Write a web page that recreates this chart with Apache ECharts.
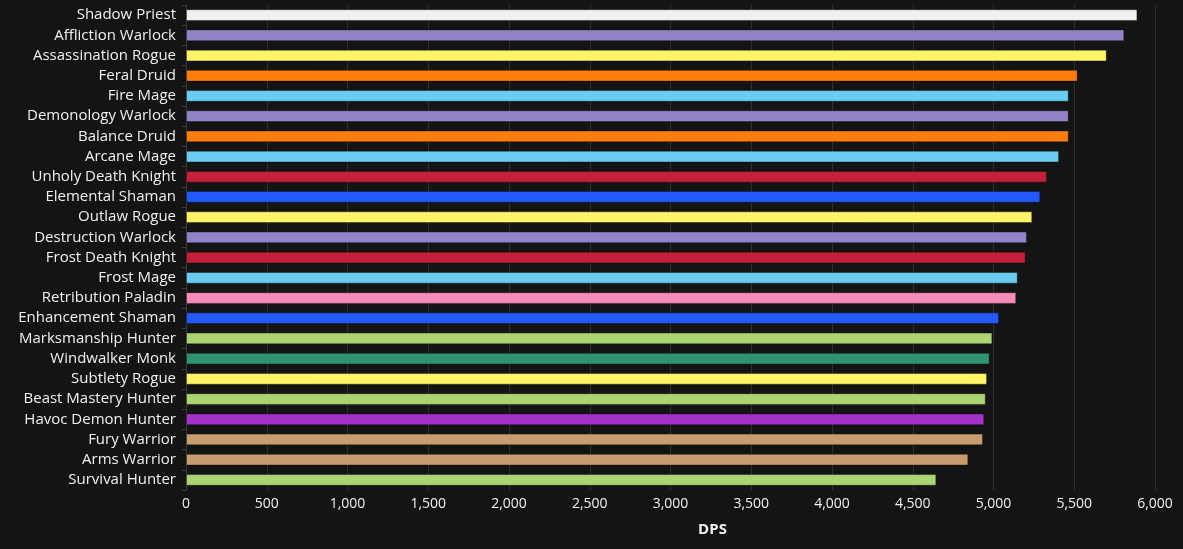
<!DOCTYPE html>
<html><head><meta charset="utf-8">
<script src="https://cdn.jsdelivr.net/npm/echarts@6/dist/echarts.min.js"></script>
<style>html,body{margin:0;padding:0;background:#141414;}#c{width:1183px;height:549px;}</style>
</head><body><div id="c"></div>
<script>
const specs = ["Shadow Priest","Affliction Warlock","Assassination Rogue","Feral Druid","Fire Mage","Demonology Warlock","Balance Druid","Arcane Mage","Unholy Death Knight","Elemental Shaman","Outlaw Rogue","Destruction Warlock","Frost Death Knight","Frost Mage","Retribution Paladin","Enhancement Shaman","Marksmanship Hunter","Windwalker Monk","Subtlety Rogue","Beast Mastery Hunter","Havoc Demon Hunter","Fury Warrior","Arms Warrior","Survival Hunter"];
const dps = [5891,5810,5701,5521,5466,5466,5466,5406,5331,5290,5240,5207,5199,5150,5141,5034,4993,4976,4960,4952,4943,4935,4844,4646];
const classes = ["priest","warlock","rogue","druid","mage","warlock","druid","mage","dk","shaman","rogue","warlock","dk","mage","paladin","shaman","hunter","monk","rogue","hunter","dh","warrior","warrior","hunter"];
const classColors = {priest:"#f0f0f0",warlock:"#9482c9",rogue:"#fff468",druid:"#ff7d0a",mage:"#69ccf0",dk:"#c41f3b",shaman:"#2459ff",paladin:"#f58cba",hunter:"#abd473",monk:"#2e9470",dh:"#a330c9",warrior:"#c79c6e"};
const xTicks = [0,500,1000,1500,2000,2500,3000,3500,4000,4500,5000,5500,6000];

const chart = echarts.init(document.getElementById('c'));
chart.setOption({
  backgroundColor:'#141414',
  animation:false,
  grid:{left:186,right:28,top:5,bottom:59,containLabel:false},
  xAxis:{type:'value',min:0,max:6000,interval:500,
    name:'DPS',nameLocation:'middle',nameGap:32,
    nameTextStyle:{color:'#f0f0f0',fontSize:15,fontWeight:'bold',fontFamily:'Open Sans',padding:[0,0,0,84]},
    axisLine:{show:false},axisTick:{show:false},
    axisLabel:{color:'#f0f0f0',fontSize:14,fontFamily:'Open Sans',margin:7,formatter:v=>v.toLocaleString('en-US')},
    splitLine:{show:true,lineStyle:{color:'#303030',width:1}}
  },
  yAxis:{type:'category',data:specs,inverse:true,
    axisLine:{show:true,lineStyle:{color:'#3a3a3a'}},
    axisTick:{show:true,length:4,lineStyle:{color:'#3a3a3a'}},
    axisLabel:{color:'#f0f0f0',fontSize:15,fontFamily:'Open Sans',margin:10},
    splitLine:{show:false}
  },
  series:[{type:'bar',barCategoryGap:'42%',
    data:dps.map((v,i)=>({value:v,itemStyle:{color:classColors[classes[i]],borderColor:'rgba(0,0,0,0.35)',borderWidth:1}}))
  }]
});
</script></body></html>
